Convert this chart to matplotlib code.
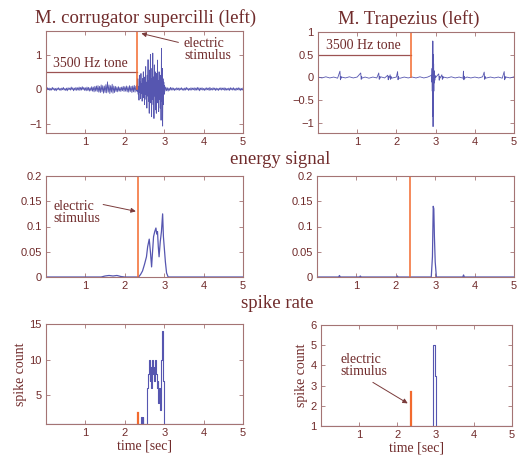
import numpy as np
import matplotlib
matplotlib.use("Agg")
import matplotlib.pyplot as plt

# ---------------- data ----------------
# M. corrugator raw EMG
emg_l_pre = [0.02,-0.03,0.04,-0.02,0.03,-0.04,0.02,-0.03,0.05,-0.02,
             0.03,-0.04,0.02,-0.05,0.03,-0.02,0.04,-0.03,0.02,-0.04,
             0.03,-0.02,0.05,-0.03,0.02,-0.04,0.03,-0.05,0.04,-0.02,
             0.03,-0.03,0.06,-0.02,0.04,-0.05,0.03,-0.03,0.05,-0.04,
             0.04,-0.03,0.06,-0.04,0.05,-0.03,0.07,-0.02,0.05,-0.04,
             0.04,-0.05,0.06,-0.04,0.05,-0.06,0.04,-0.05,0.07,-0.06,
             0.06,-0.08,0.08,-0.06,0.09,-0.07,0.10,-0.09,0.08,-0.10,
             0.12,-0.08,0.10,-0.12,0.09,-0.10,0.13,-0.11,0.21,-0.09,
             0.12,-0.13,0.10,-0.09,0.14,-0.12,0.09,-0.10,0.08,-0.07,
             0.06,-0.08,0.07,-0.06,0.05,-0.07,0.06,-0.05,0.08,-0.07,
             0.07,-0.06,0.09,-0.08,0.07,-0.09,0.10,-0.07,0.08,-0.10,
             0.09,-0.08,0.11,-0.09,0.08,-0.06]
emg_l_burst = [0.12,-0.08,0.30,-0.15,0.08,-0.32,0.40,-0.10,0.20,-0.28,
               0.45,-0.12,0.15,-0.35,0.30,-0.08,0.50,-0.25,0.12,-0.45,
               0.35,-0.15,0.65,-0.30,0.20,-0.55,0.40,-0.20,0.85,-0.35,
               0.25,-0.70,0.55,-0.25,1.00,-0.40,0.30,-0.80,0.60,-0.30,
               1.04,-0.45,0.35,-0.85,0.70,-0.20,0.50,-0.60,0.30,-0.70,
               0.45,-0.25,0.84,-0.40,0.25,-0.65,0.50,-0.30,0.20,-0.55,
               0.40,-0.90,1.18,-0.35,0.60,-1.07,0.30,-0.45,0.20,-0.15,
               0.10,-0.06]
emg_l_post = [0.06,-0.05,0.04,-0.06,0.03,-0.04,0.05,-0.03,0.04,-0.03,
              0.03,-0.04,0.02,-0.03,0.04,-0.02,0.03,-0.04,0.03,-0.02,
              0.04,-0.03,0.02,-0.04,0.03,-0.03,0.05,-0.02,0.03,-0.04,
              0.02,-0.03,0.04,-0.03,0.03,-0.02,0.04,-0.04,0.03,-0.03,
              0.05,-0.03,0.04,-0.05,0.03,-0.02,0.04,-0.03,0.02,-0.04,
              0.03,-0.03,0.04,-0.02,0.03,-0.04,0.05,-0.03,0.02,-0.03,
              0.04,-0.02,0.03,-0.04,0.03,-0.03,0.02,-0.04,0.03,-0.02,
              0.04,-0.03,0.03,-0.02,0.04,-0.04,0.03,-0.03,0.02,-0.03,
              0.03,-0.04,0.04,-0.02,0.03,-0.03,0.04,-0.03,0.02,-0.04,
              0.03,-0.02,0.04,-0.03,0.03,-0.04,0.02,-0.03,0.03]

# M. Trapezius raw EMG
trap_base = [0.01,-0.01,0.015,-0.01,0.01,-0.015,0.01,-0.01,0.015,-0.01,
             0.01,-0.01,0.01,-0.015,0.01,-0.01,0.015,-0.01,0.01,-0.01,
             0.01,-0.015,0.01,-0.01,0.01,-0.01,0.015,-0.01,0.01,-0.015,
             0.01,-0.01,0.01,-0.01,0.015,-0.01,0.01,-0.015,0.01,-0.01,
             0.01,-0.01,0.015,-0.01,0.01,-0.01,0.01,-0.015,0.01,-0.01,
             0.015]
trap_spike_t = [0.56, 1.09, 1.55, 1.78, 1.84, 2.03, 3.08, 3.16, 3.71, 4.24, 4.75]
trap_spike_up = [0.14, 0.10, 0.10, 0.05, 0.06, 0.13, 0.08, 0.06, 0.14, 0.12, 0.13]
trap_spike_dn = [-0.05, -0.04, -0.04, -0.05, -0.04, -0.05, -0.06, -0.04, -0.05, -0.04, -0.05]
trap_big_t = [2.90, 2.905, 2.91, 2.915, 2.92, 2.925, 2.93, 2.935, 2.94, 2.945,
              2.95, 2.955, 2.96, 2.965, 2.97, 2.98, 2.99, 3.00]
trap_big_v = [0.05, -0.10, 0.20, -0.30, 0.80, -0.85, 0.80, -1.08, 0.50, -0.60,
              0.30, -0.30, 0.15, -0.12, 0.08, -0.06, 0.04, 0.0]

# energy signals
en_l_t = [0, 1.4, 1.5, 1.6, 1.7, 1.8, 1.9, 2.0, 2.35, 2.40, 2.45, 2.50, 2.55, 2.58,
          2.62, 2.65, 2.68, 2.70, 2.73, 2.76, 2.79, 2.81, 2.83, 2.85, 2.87, 2.90,
          2.93, 2.96, 2.98, 3.00, 3.03, 3.06, 3.10, 5.0]
en_l_v = [0, 0, 0.002, 0.003, 0.002, 0.003, 0.001, 0, 0, 0.005, 0.012, 0.025, 0.04,
          0.06, 0.075, 0.05, 0.02, 0.045, 0.08, 0.09, 0.097, 0.085, 0.09, 0.06, 0.04,
          0.07, 0.09, 0.125, 0.08, 0.06, 0.03, 0.008, 0, 0]
en_r_t = [0, 0.55, 0.57, 0.59, 1.08, 1.10, 1.12, 2.02, 2.04, 2.06, 2.90, 2.93, 2.95,
          2.965, 2.98, 3.00, 3.03, 3.70, 3.72, 3.74, 5.0]
en_r_v = [0, 0, 0.003, 0, 0, 0.002, 0, 0, 0.002, 0, 0, 0.04, 0.14, 0.135, 0.08,
          0.03, 0, 0, 0.004, 0, 0]

# spike counts
sc_l_t = [0, 2.40, 2.43, 2.45, 2.47, 2.56, 2.58, 2.61, 2.63, 2.65, 2.67, 2.69, 2.71,
          2.73, 2.75, 2.77, 2.79, 2.81, 2.83, 2.85, 2.87, 2.89, 2.91, 2.93, 2.95,
          2.97, 3.00, 5.0]
sc_l_v = [1, 2, 1, 2, 1, 6, 8, 10, 7, 9, 6, 10, 8, 9, 7, 10, 8, 6, 7, 4, 6, 3, 6,
          10, 14, 7, 1, 1]
sc_r_t = [0, 2.92, 2.94, 2.98, 3.02, 5.0]
sc_r_v = [1, 2, 5, 3.5, 1, 1]

stim_t = [2.32, 2.37, 2.34, 2.37, 2.34, 2.35]
tone_end = [2.32, 2.37]
x_ticks = [1, 2, 3, 4, 5]

# ---------------- style ----------------
TXT = "#702b2b"
SPN = "#a47474"
SIG = "#5656b0"
ORG = "#f26a2e"
TONE = "#9c5252"
SERIF = ["Liberation Serif", "DejaVu Serif"]
SANS = ["Liberation Sans", "DejaVu Sans"]

plt.rcParams["font.family"] = SANS
plt.rcParams["axes.unicode_minus"] = True

fig = plt.figure(figsize=(5.17, 4.58), dpi=100)
W, H = 517.0, 458.0


def make_ax(l, r, t, b):
    return fig.add_axes([l / W, 1 - b / H, (r - l) / W, (b - t) / H])


def style(ax, ylim, yticks, yticklabels):
    ax.set_xlim(0, 5)
    ax.set_ylim(*ylim)
    ax.set_xticks(x_ticks)
    ax.set_xticklabels([str(v) for v in x_ticks])
    ax.set_yticks(yticks)
    ax.set_yticklabels(yticklabels)
    for s in ax.spines.values():
        s.set_color(SPN)
        s.set_linewidth(0.8)
    ax.tick_params(direction="in", length=3, width=0.6, colors=SPN,
                   labelcolor=TXT, labelsize=8, top=True, right=True, pad=3)


axTL = make_ax(46, 243, 31, 133)
axTR = make_ax(318, 514, 32, 133)
axML = make_ax(46, 243, 176, 277)
axMR = make_ax(317, 514, 176, 277)
axBL = make_ax(46, 243, 324, 424)
axBR = make_ax(321, 512, 325, 426)

# --- top left
t_pre = np.round(np.arange(len(emg_l_pre)) * 0.02, 3)
t_burst = np.round(2.31 + np.arange(len(emg_l_burst)) * 0.01, 3)
t_post = np.round(3.04 + np.arange(len(emg_l_post)) * 0.02, 3)
tl_t = np.concatenate([t_pre, t_burst, t_post])
tl_v = np.concatenate([emg_l_pre, emg_l_burst, emg_l_post])
axTL.plot(tl_t, tl_v, color=SIG, lw=0.6)
axTL.plot([0, tone_end[0]], [0.5, 0.5], color=TONE, lw=0.9)
axTL.plot([stim_t[0], stim_t[0]], [0, 1.7], color=ORG, lw=1.1)
style(axTL, (-1.27, 1.68), [-1, 0, 1], ["\u22121", "0", "1"])
axTL.text(0.17, 0.56, "3500 Hz tone", family=SERIF, fontsize=10, color=TXT,
          ha="left", va="bottom")
axTL.annotate("electric\nstimulus", xy=(2.42, 1.61), xytext=(3.5, 1.15),
              family=SERIF, fontsize=10, color=TXT, ha="left", va="center",
              linespacing=0.95,
              arrowprops=dict(arrowstyle="-|>", color="#7a3a3a", lw=0.7,
                              shrinkA=2, shrinkB=0, mutation_scale=7,
                              relpos=(0, 0.72)))

# --- top right
tb_t = np.round(np.arange(len(trap_base)) * 0.1, 3)
pts = list(zip(tb_t, trap_base))
for ts, up, dn in zip(trap_spike_t, trap_spike_up, trap_spike_dn):
    pts += [(ts, up), (ts + 0.012, dn), (ts + 0.024, 0.02), (ts + 0.034, -0.015)]
pts = [p for p in pts if not (2.88 <= p[0] <= 3.01)]
pts += list(zip(trap_big_t, trap_big_v))
pts.sort(key=lambda p: p[0])
tr_t, tr_v = zip(*pts)
axTR.plot(tr_t, tr_v, color=SIG, lw=0.6)
axTR.plot([0, tone_end[1]], [0.5, 0.5], color=TONE, lw=0.9)
axTR.plot([stim_t[1], stim_t[1]], [0, 1.0], color=ORG, lw=1.1)
style(axTR, (-1.22, 1.0), [-1, -0.5, 0, 0.5, 1],
      ["\u22121", "\u22120.5", "0", "0.5", "1"])
axTR.text(0.2, 0.56, "3500 Hz tone", family=SERIF, fontsize=10, color=TXT,
          ha="left", va="bottom")

# --- middle
ey = [0, 0.05, 0.1, 0.15, 0.2]
eyl = ["0", "0.05", "0.1", "0.15", "0.2"]
axML.plot(en_l_t, en_l_v, color=SIG, lw=0.9)
axML.plot([stim_t[2], stim_t[2]], [0, 0.2], color=ORG, lw=1.1)
style(axML, (0, 0.2), ey, eyl)
axML.annotate("electric\nstimulus", xy=(2.28, 0.13), xytext=(0.19, 0.128),
              family=SERIF, fontsize=10, color=TXT, ha="left", va="center",
              linespacing=0.95,
              arrowprops=dict(arrowstyle="-|>", color="#7a3a3a", lw=0.7,
                              shrinkA=0, shrinkB=0, mutation_scale=7,
                              relpos=(0.95, 0.85)))

axMR.plot(en_r_t, en_r_v, color=SIG, lw=0.9)
axMR.plot([stim_t[3], stim_t[3]], [0, 0.2], color=ORG, lw=1.1)
style(axMR, (0, 0.2), ey, eyl)

# --- bottom
axBL.step(sc_l_t, sc_l_v, where="post", color=SIG, lw=0.8)
axBL.plot([stim_t[4], stim_t[4]], [1, 2.6], color=ORG, lw=1.6)
style(axBL, (1, 15), [5, 10, 15], ["5", "10", "15"])
axBL.set_xlabel("time [sec]", family=SERIF, fontsize=10, color=TXT, labelpad=1)
axBL.set_ylabel("spike count", family=SERIF, fontsize=10, color=TXT, labelpad=2)

axBR.step(sc_r_t, sc_r_v, where="post", color=SIG, lw=0.8)
axBR.plot([stim_t[5], stim_t[5]], [1, 2.7], color=ORG, lw=1.6)
style(axBR, (1, 6), [1, 2, 3, 4, 5, 6], ["1", "2", "3", "4", "5", "6"])
axBR.set_xlabel("time [sec]", family=SERIF, fontsize=10, color=TXT, labelpad=1)
axBR.set_ylabel("spike count", family=SERIF, fontsize=10, color=TXT, labelpad=2)
axBR.annotate("electric\nstimulus", xy=(2.27, 2.12), xytext=(0.5, 4.0),
              family=SERIF, fontsize=10, color=TXT, ha="left", va="center",
              linespacing=0.95,
              arrowprops=dict(arrowstyle="-|>", color="#7a3a3a", lw=0.7,
                              shrinkA=2, shrinkB=0, mutation_scale=7,
                              relpos=(0.55, 0)))

# --- headings
fig.text(146 / W, 1 - 18 / H, "M. corrugator supercilli (left)", family=SERIF,
         fontsize=13.5, color=TXT, ha="center", va="center")
fig.text(409 / W, 1 - 19 / H, "M. Trapezius (left)", family=SERIF,
         fontsize=13.5, color=TXT, ha="center", va="center")
fig.text(280 / W, 1 - 159 / H, "energy signal", family=SERIF,
         fontsize=13.5, color=TXT, ha="center", va="center")
fig.text(277 / W, 1 - 303 / H, "spike rate", family=SERIF,
         fontsize=13.5, color=TXT, ha="center", va="center")

fig.savefig("out.png", dpi=100, facecolor="white")
